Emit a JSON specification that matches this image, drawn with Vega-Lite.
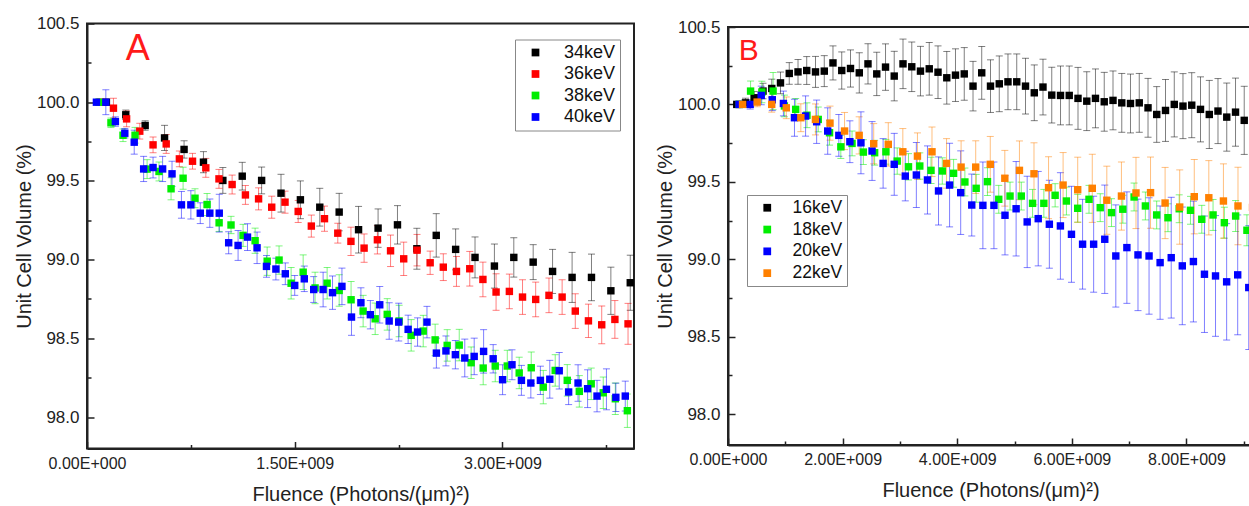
{
"$schema": "https://vega.github.io/schema/vega-lite/v6.json",
"autosize": {"type": "pad"},
"padding": {"left": 13, "top": 13.5, "right": 0, "bottom": 0},
"background": "white",
"config": {
  "font": "Liberation Sans",
  "view": {"stroke": "#222", "strokeWidth": 2},
  "axis": {"domainColor": "#222", "domainWidth": 2, "tickColor": "#222", "tickWidth": 1.5, "labelColor": "#222", "titleColor": "#222", "labelFont": "Liberation Sans", "titleFont": "Liberation Sans", "titleFontWeight": "normal", "titleFontSize": 20, "grid": false, "labelOverlap": false, "labelFlush": false},
  "legend": {"labelFont": "Liberation Sans", "labelColor": "#111", "symbolOpacity": 1}
},
"datasets": {
"a": [
{"E":"34keV","f":0.140,"v":100.0,"e":0},{"E":"34keV","f":0.280,"v":99.92,"e":0.03},{"E":"34keV","f":0.420,"v":99.852,"e":0.03},{"E":"34keV","f":0.560,"v":99.773,"e":0.08},{"E":"34keV","f":0.701,"v":99.70,"e":0.055},{"E":"34keV","f":0.841,"v":99.619,"e":0.067},{"E":"34keV","f":0.981,"v":99.503,"e":0.082},{"E":"34keV","f":1.121,"v":99.53,"e":0.088},{"E":"34keV","f":1.261,"v":99.503,"e":0.085},{"E":"34keV","f":1.401,"v":99.422,"e":0.12},{"E":"34keV","f":1.541,"v":99.38,"e":0.12},{"E":"34keV","f":1.681,"v":99.333,"e":0.12},{"E":"34keV","f":1.821,"v":99.302,"e":0.119},{"E":"34keV","f":1.961,"v":99.19,"e":0.148},{"E":"34keV","f":2.102,"v":99.2,"e":0.122},{"E":"34keV","f":2.242,"v":99.221,"e":0.122},{"E":"34keV","f":2.382,"v":99.069,"e":0.13},{"E":"34keV","f":2.522,"v":99.154,"e":0.138},{"E":"34keV","f":2.662,"v":99.065,"e":0.13},{"E":"34keV","f":2.802,"v":99.014,"e":0.13},{"E":"34keV","f":2.942,"v":98.959,"e":0.14},{"E":"34keV","f":3.082,"v":99.014,"e":0.125},{"E":"34keV","f":3.222,"v":98.984,"e":0.111},{"E":"34keV","f":3.362,"v":98.925,"e":0.14},{"E":"34keV","f":3.503,"v":98.887,"e":0.159},{"E":"34keV","f":3.643,"v":98.887,"e":0.148},{"E":"34keV","f":3.783,"v":98.802,"e":0.15},{"E":"34keV","f":3.923,"v":98.853,"e":0.175},
{"E":"36keV","f":0.095,"v":100.0,"e":0},{"E":"36keV","f":0.191,"v":99.962,"e":0.063},{"E":"36keV","f":0.286,"v":99.894,"e":0.05},{"E":"36keV","f":0.381,"v":99.816,"e":0.05},{"E":"36keV","f":0.477,"v":99.729,"e":0.05},{"E":"36keV","f":0.572,"v":99.735,"e":0.06},{"E":"36keV","f":0.667,"v":99.64,"e":0.05},{"E":"36keV","f":0.762,"v":99.625,"e":0.05},{"E":"36keV","f":0.858,"v":99.583,"e":0.06},{"E":"36keV","f":0.953,"v":99.513,"e":0.06},{"E":"36keV","f":1.048,"v":99.477,"e":0.06},{"E":"36keV","f":1.144,"v":99.411,"e":0.06},{"E":"36keV","f":1.239,"v":99.386,"e":0.07},{"E":"36keV","f":1.334,"v":99.333,"e":0.07},{"E":"36keV","f":1.430,"v":99.365,"e":0.07},{"E":"36keV","f":1.525,"v":99.306,"e":0.07},{"E":"36keV","f":1.620,"v":99.213,"e":0.07},{"E":"36keV","f":1.715,"v":99.26,"e":0.08},{"E":"36keV","f":1.811,"v":99.168,"e":0.063},{"E":"36keV","f":1.906,"v":99.116,"e":0.09},{"E":"36keV","f":2.001,"v":99.073,"e":0.09},{"E":"36keV","f":2.097,"v":99.126,"e":0.09},{"E":"36keV","f":2.192,"v":99.056,"e":0.1},{"E":"36keV","f":2.287,"v":99.005,"e":0.106},{"E":"36keV","f":2.383,"v":99.06,"e":0.1},{"E":"36keV","f":2.478,"v":98.98,"e":0.074},{"E":"36keV","f":2.573,"v":98.952,"e":0.085},{"E":"36keV","f":2.668,"v":98.925,"e":0.095},{"E":"36keV","f":2.764,"v":98.942,"e":0.11},{"E":"36keV","f":2.859,"v":98.874,"e":0.11},{"E":"36keV","f":2.954,"v":98.794,"e":0.116},{"E":"36keV","f":3.050,"v":98.798,"e":0.11},{"E":"36keV","f":3.145,"v":98.762,"e":0.11},{"E":"36keV","f":3.240,"v":98.747,"e":0.11},{"E":"36keV","f":3.336,"v":98.773,"e":0.11},{"E":"36keV","f":3.431,"v":98.762,"e":0.11},{"E":"36keV","f":3.526,"v":98.673,"e":0.11},{"E":"36keV","f":3.621,"v":98.611,"e":0.106},{"E":"36keV","f":3.717,"v":98.586,"e":0.12},{"E":"36keV","f":3.812,"v":98.62,"e":0.12},{"E":"36keV","f":3.907,"v":98.592,"e":0.13},
{"E":"38keV","f":0.087,"v":100.0,"e":0},{"E":"38keV","f":0.173,"v":99.869,"e":0.03},{"E":"38keV","f":0.260,"v":99.79,"e":0.04},{"E":"38keV","f":0.347,"v":99.79,"e":0.05},{"E":"38keV","f":0.434,"v":99.575,"e":0.06},{"E":"38keV","f":0.520,"v":99.56,"e":0.06},{"E":"38keV","f":0.607,"v":99.45,"e":0.07},{"E":"38keV","f":0.694,"v":99.517,"e":0.07},{"E":"38keV","f":0.780,"v":99.39,"e":0.06},{"E":"38keV","f":0.867,"v":99.35,"e":0.07},{"E":"38keV","f":0.954,"v":99.234,"e":0.055},{"E":"38keV","f":1.040,"v":99.22,"e":0.055},{"E":"38keV","f":1.127,"v":99.154,"e":0.07},{"E":"38keV","f":1.214,"v":99.12,"e":0.08},{"E":"38keV","f":1.301,"v":98.99,"e":0.09},{"E":"38keV","f":1.387,"v":98.997,"e":0.09},{"E":"38keV","f":1.474,"v":98.85,"e":0.1},{"E":"38keV","f":1.561,"v":98.92,"e":0.11},{"E":"38keV","f":1.647,"v":98.82,"e":0.1},{"E":"38keV","f":1.734,"v":98.85,"e":0.1},{"E":"38keV","f":1.821,"v":98.804,"e":0.1},{"E":"38keV","f":1.907,"v":98.745,"e":0.116},{"E":"38keV","f":1.994,"v":98.673,"e":0.1},{"E":"38keV","f":2.081,"v":98.624,"e":0.1},{"E":"38keV","f":2.168,"v":98.652,"e":0.1},{"E":"38keV","f":2.254,"v":98.61,"e":0.1},{"E":"38keV","f":2.341,"v":98.519,"e":0.1},{"E":"38keV","f":2.428,"v":98.546,"e":0.1},{"E":"38keV","f":2.514,"v":98.49,"e":0.1},{"E":"38keV","f":2.601,"v":98.455,"e":0.1},{"E":"38keV","f":2.688,"v":98.457,"e":0.1},{"E":"38keV","f":2.774,"v":98.345,"e":0.1},{"E":"38keV","f":2.861,"v":98.311,"e":0.106},{"E":"38keV","f":2.948,"v":98.324,"e":0.1},{"E":"38keV","f":3.035,"v":98.324,"e":0.1},{"E":"38keV","f":3.121,"v":98.28,"e":0.1},{"E":"38keV","f":3.208,"v":98.313,"e":0.1},{"E":"38keV","f":3.295,"v":98.19,"e":0.106},{"E":"38keV","f":3.381,"v":98.296,"e":0.1},{"E":"38keV","f":3.468,"v":98.233,"e":0.1},{"E":"38keV","f":3.555,"v":98.163,"e":0.1},{"E":"38keV","f":3.641,"v":98.211,"e":0.1},{"E":"38keV","f":3.728,"v":98.154,"e":0.1},{"E":"38keV","f":3.815,"v":98.116,"e":0.1},{"E":"38keV","f":3.902,"v":98.04,"e":0.106},
{"E":"40keV","f":0.068,"v":100.0,"e":0},{"E":"40keV","f":0.136,"v":100.0,"e":0.079},{"E":"40keV","f":0.205,"v":99.877,"e":0.03},{"E":"40keV","f":0.273,"v":99.803,"e":0.03},{"E":"40keV","f":0.341,"v":99.746,"e":0.076},{"E":"40keV","f":0.409,"v":99.576,"e":0.08},{"E":"40keV","f":0.477,"v":99.585,"e":0.066},{"E":"40keV","f":0.546,"v":99.576,"e":0.08},{"E":"40keV","f":0.614,"v":99.545,"e":0.08},{"E":"40keV","f":0.682,"v":99.348,"e":0.085},{"E":"40keV","f":0.750,"v":99.348,"e":0.09},{"E":"40keV","f":0.818,"v":99.295,"e":0.066},{"E":"40keV","f":0.887,"v":99.295,"e":0.09},{"E":"40keV","f":0.955,"v":99.295,"e":0.12},{"E":"40keV","f":1.023,"v":99.107,"e":0.07},{"E":"40keV","f":1.091,"v":99.09,"e":0.095},{"E":"40keV","f":1.159,"v":99.143,"e":0.085},{"E":"40keV","f":1.228,"v":99.075,"e":0.1},{"E":"40keV","f":1.296,"v":98.957,"e":0.069},{"E":"40keV","f":1.364,"v":98.94,"e":0.069},{"E":"40keV","f":1.432,"v":98.91,"e":0.069},{"E":"40keV","f":1.500,"v":98.836,"e":0.063},{"E":"40keV","f":1.569,"v":98.878,"e":0.081},{"E":"40keV","f":1.637,"v":98.81,"e":0.082},{"E":"40keV","f":1.705,"v":98.81,"e":0.11},{"E":"40keV","f":1.773,"v":98.79,"e":0.106},{"E":"40keV","f":1.841,"v":98.83,"e":0.116},{"E":"40keV","f":1.910,"v":98.635,"e":0.116},{"E":"40keV","f":1.978,"v":98.726,"e":0.095},{"E":"40keV","f":2.046,"v":98.65,"e":0.09},{"E":"40keV","f":2.114,"v":98.713,"e":0.116},{"E":"40keV","f":2.182,"v":98.61,"e":0.116},{"E":"40keV","f":2.251,"v":98.603,"e":0.12},{"E":"40keV","f":2.319,"v":98.557,"e":0.09},{"E":"40keV","f":2.387,"v":98.54,"e":0.09},{"E":"40keV","f":2.455,"v":98.603,"e":0.1},{"E":"40keV","f":2.523,"v":98.406,"e":0.095},{"E":"40keV","f":2.592,"v":98.42,"e":0.095},{"E":"40keV","f":2.660,"v":98.396,"e":0.09},{"E":"40keV","f":2.728,"v":98.375,"e":0.12},{"E":"40keV","f":2.796,"v":98.385,"e":0.116},{"E":"40keV","f":2.864,"v":98.417,"e":0.138},{"E":"40keV","f":2.933,"v":98.37,"e":0.09},{"E":"40keV","f":3.001,"v":98.237,"e":0.095},{"E":"40keV","f":3.069,"v":98.332,"e":0.095},{"E":"40keV","f":3.137,"v":98.233,"e":0.095},{"E":"40keV","f":3.205,"v":98.216,"e":0.095},{"E":"40keV","f":3.274,"v":98.233,"e":0.09},{"E":"40keV","f":3.342,"v":98.24,"e":0.12},{"E":"40keV","f":3.410,"v":98.294,"e":0.116},{"E":"40keV","f":3.478,"v":98.159,"e":0.08},{"E":"40keV","f":3.546,"v":98.216,"e":0.116},{"E":"40keV","f":3.615,"v":98.18,"e":0.12},{"E":"40keV","f":3.683,"v":98.133,"e":0.1},{"E":"40keV","f":3.751,"v":98.176,"e":0.13},{"E":"40keV","f":3.819,"v":98.125,"e":0.09},{"E":"40keV","f":3.887,"v":98.133,"e":0.095}
],
"b": [
{"E":"16keV","f":0.153,"v":100.0,"e":0},{"E":"16keV","f":0.305,"v":100.01,"e":0.03},{"E":"16keV","f":0.458,"v":100.043,"e":0.04},{"E":"16keV","f":0.611,"v":100.086,"e":0.05},{"E":"16keV","f":0.764,"v":100.103,"e":0.06},{"E":"16keV","f":0.916,"v":100.139,"e":0.07},{"E":"16keV","f":1.069,"v":100.2,"e":0.07},{"E":"16keV","f":1.222,"v":100.21,"e":0.08},{"E":"16keV","f":1.374,"v":100.219,"e":0.09},{"E":"16keV","f":1.527,"v":100.21,"e":0.1},{"E":"16keV","f":1.680,"v":100.215,"e":0.1},{"E":"16keV","f":1.832,"v":100.268,"e":0.11},{"E":"16keV","f":1.985,"v":100.219,"e":0.12},{"E":"16keV","f":2.138,"v":100.232,"e":0.12},{"E":"16keV","f":2.291,"v":100.204,"e":0.13},{"E":"16keV","f":2.443,"v":100.262,"e":0.13},{"E":"16keV","f":2.596,"v":100.197,"e":0.14},{"E":"16keV","f":2.749,"v":100.241,"e":0.15},{"E":"16keV","f":2.901,"v":100.183,"e":0.16},{"E":"16keV","f":3.054,"v":100.262,"e":0.16},{"E":"16keV","f":3.207,"v":100.243,"e":0.16},{"E":"16keV","f":3.359,"v":100.215,"e":0.16},{"E":"16keV","f":3.512,"v":100.23,"e":0.17},{"E":"16keV","f":3.665,"v":100.208,"e":0.17},{"E":"16keV","f":3.818,"v":100.172,"e":0.17},{"E":"16keV","f":3.970,"v":100.189,"e":0.17},{"E":"16keV","f":4.123,"v":100.197,"e":0.17},{"E":"16keV","f":4.276,"v":100.118,"e":0.16},{"E":"16keV","f":4.428,"v":100.204,"e":0.17},{"E":"16keV","f":4.581,"v":100.118,"e":0.17},{"E":"16keV","f":4.734,"v":100.133,"e":0.18},{"E":"16keV","f":4.886,"v":100.146,"e":0.18},{"E":"16keV","f":5.039,"v":100.146,"e":0.18},{"E":"16keV","f":5.192,"v":100.118,"e":0.18},{"E":"16keV","f":5.345,"v":100.075,"e":0.18},{"E":"16keV","f":5.497,"v":100.112,"e":0.18},{"E":"16keV","f":5.650,"v":100.06,"e":0.18},{"E":"16keV","f":5.803,"v":100.058,"e":0.19},{"E":"16keV","f":5.955,"v":100.058,"e":0.19},{"E":"16keV","f":6.108,"v":100.039,"e":0.2},{"E":"16keV","f":6.261,"v":100.021,"e":0.19},{"E":"16keV","f":6.413,"v":100.039,"e":0.19},{"E":"16keV","f":6.566,"v":100.017,"e":0.19},{"E":"16keV","f":6.719,"v":100.026,"e":0.19},{"E":"16keV","f":6.872,"v":100.01,"e":0.19},{"E":"16keV","f":7.024,"v":100.006,"e":0.19},{"E":"16keV","f":7.177,"v":100.01,"e":0.19},{"E":"16keV","f":7.330,"v":99.978,"e":0.19},{"E":"16keV","f":7.482,"v":99.935,"e":0.18},{"E":"16keV","f":7.635,"v":99.961,"e":0.2},{"E":"16keV","f":7.788,"v":100.0,"e":0.21},{"E":"16keV","f":7.940,"v":99.989,"e":0.21},{"E":"16keV","f":8.093,"v":99.995,"e":0.21},{"E":"16keV","f":8.246,"v":99.968,"e":0.21},{"E":"16keV","f":8.399,"v":99.935,"e":0.22},{"E":"16keV","f":8.551,"v":99.957,"e":0.21},{"E":"16keV","f":8.704,"v":99.918,"e":0.22},{"E":"16keV","f":8.857,"v":99.95,"e":0.22},{"E":"16keV","f":9.009,"v":99.897,"e":0.22},
{"E":"18keV","f":0.197,"v":100.0,"e":0},{"E":"18keV","f":0.394,"v":100.086,"e":0.065},{"E":"18keV","f":0.591,"v":100.08,"e":0.07},{"E":"18keV","f":0.787,"v":100.086,"e":0.12},{"E":"18keV","f":0.984,"v":99.99,"e":0.07},{"E":"18keV","f":1.181,"v":99.968,"e":0.07},{"E":"18keV","f":1.378,"v":99.93,"e":0.08},{"E":"18keV","f":1.575,"v":99.903,"e":0.08},{"E":"18keV","f":1.772,"v":99.817,"e":0.08},{"E":"18keV","f":1.969,"v":99.726,"e":0.075},{"E":"18keV","f":2.165,"v":99.748,"e":0.08},{"E":"18keV","f":2.362,"v":99.692,"e":0.08},{"E":"18keV","f":2.559,"v":99.688,"e":0.08},{"E":"18keV","f":2.756,"v":99.694,"e":0.08},{"E":"18keV","f":2.953,"v":99.634,"e":0.085},{"E":"18keV","f":3.150,"v":99.597,"e":0.085},{"E":"18keV","f":3.347,"v":99.602,"e":0.085},{"E":"18keV","f":3.543,"v":99.574,"e":0.085},{"E":"18keV","f":3.740,"v":99.57,"e":0.085},{"E":"18keV","f":3.937,"v":99.555,"e":0.09},{"E":"18keV","f":4.134,"v":99.499,"e":0.09},{"E":"18keV","f":4.331,"v":99.458,"e":0.09},{"E":"18keV","f":4.528,"v":99.501,"e":0.09},{"E":"18keV","f":4.725,"v":99.387,"e":0.09},{"E":"18keV","f":4.922,"v":99.408,"e":0.09},{"E":"18keV","f":5.118,"v":99.408,"e":0.09},{"E":"18keV","f":5.315,"v":99.361,"e":0.09},{"E":"18keV","f":5.512,"v":99.361,"e":0.09},{"E":"18keV","f":5.709,"v":99.413,"e":0.075},{"E":"18keV","f":5.906,"v":99.376,"e":0.09},{"E":"18keV","f":6.103,"v":99.329,"e":0.09},{"E":"18keV","f":6.300,"v":99.387,"e":0.09},{"E":"18keV","f":6.496,"v":99.333,"e":0.09},{"E":"18keV","f":6.693,"v":99.301,"e":0.09},{"E":"18keV","f":6.890,"v":99.323,"e":0.09},{"E":"18keV","f":7.087,"v":99.402,"e":0.09},{"E":"18keV","f":7.284,"v":99.344,"e":0.09},{"E":"18keV","f":7.481,"v":99.286,"e":0.09},{"E":"18keV","f":7.678,"v":99.268,"e":0.09},{"E":"18keV","f":7.874,"v":99.326,"e":0.09},{"E":"18keV","f":8.071,"v":99.316,"e":0.09},{"E":"18keV","f":8.268,"v":99.258,"e":0.09},{"E":"18keV","f":8.465,"v":99.286,"e":0.1},{"E":"18keV","f":8.662,"v":99.236,"e":0.1},{"E":"18keV","f":8.859,"v":99.279,"e":0.1},{"E":"18keV","f":9.056,"v":99.187,"e":0.1},
{"E":"20keV","f":0.193,"v":100.0,"e":0},{"E":"20keV","f":0.387,"v":100.0,"e":0.03},{"E":"20keV","f":0.580,"v":100.058,"e":0.06},{"E":"20keV","f":0.773,"v":100.03,"e":0.07},{"E":"20keV","f":0.967,"v":100.006,"e":0.08},{"E":"20keV","f":1.160,"v":99.914,"e":0.12},{"E":"20keV","f":1.354,"v":99.925,"e":0.13},{"E":"20keV","f":1.547,"v":99.888,"e":0.14},{"E":"20keV","f":1.740,"v":99.828,"e":0.15},{"E":"20keV","f":1.934,"v":99.8,"e":0.135},{"E":"20keV","f":2.127,"v":99.759,"e":0.135},{"E":"20keV","f":2.320,"v":99.752,"e":0.2},{"E":"20keV","f":2.514,"v":99.699,"e":0.19},{"E":"20keV","f":2.707,"v":99.619,"e":0.16},{"E":"20keV","f":2.901,"v":99.613,"e":0.2},{"E":"20keV","f":3.094,"v":99.537,"e":0.16},{"E":"20keV","f":3.287,"v":99.544,"e":0.21},{"E":"20keV","f":3.481,"v":99.512,"e":0.22},{"E":"20keV","f":3.674,"v":99.441,"e":0.22},{"E":"20keV","f":3.867,"v":99.479,"e":0.27},{"E":"20keV","f":4.061,"v":99.43,"e":0.27},{"E":"20keV","f":4.254,"v":99.35,"e":0.2},{"E":"20keV","f":4.448,"v":99.348,"e":0.28},{"E":"20keV","f":4.641,"v":99.348,"e":0.28},{"E":"20keV","f":4.834,"v":99.284,"e":0.256},{"E":"20keV","f":5.028,"v":99.326,"e":0.305},{"E":"20keV","f":5.221,"v":99.241,"e":0.295},{"E":"20keV","f":5.414,"v":99.262,"e":0.305},{"E":"20keV","f":5.608,"v":99.226,"e":0.284},{"E":"20keV","f":5.801,"v":99.215,"e":0.344},{"E":"20keV","f":5.994,"v":99.161,"e":0.31},{"E":"20keV","f":6.188,"v":99.097,"e":0.29},{"E":"20keV","f":6.381,"v":99.097,"e":0.31},{"E":"20keV","f":6.575,"v":99.129,"e":0.35},{"E":"20keV","f":6.768,"v":99.021,"e":0.33},{"E":"20keV","f":6.961,"v":99.075,"e":0.36},{"E":"20keV","f":7.155,"v":99.028,"e":0.36},{"E":"20keV","f":7.348,"v":99.021,"e":0.376},{"E":"20keV","f":7.541,"v":98.978,"e":0.366},{"E":"20keV","f":7.735,"v":99.01,"e":0.39},{"E":"20keV","f":7.928,"v":98.957,"e":0.38},{"E":"20keV","f":8.122,"v":98.985,"e":0.39},{"E":"20keV","f":8.315,"v":98.903,"e":0.376},{"E":"20keV","f":8.508,"v":98.892,"e":0.39},{"E":"20keV","f":8.702,"v":98.854,"e":0.376},{"E":"20keV","f":8.895,"v":98.899,"e":0.387},{"E":"20keV","f":9.088,"v":98.817,"e":0.40},
{"E":"22keV","f":0.254,"v":100.0,"e":0},{"E":"22keV","f":0.509,"v":100.015,"e":0.03},{"E":"22keV","f":0.763,"v":100.0,"e":0.05},{"E":"22keV","f":1.017,"v":99.978,"e":0.07},{"E":"22keV","f":1.271,"v":99.914,"e":0.09},{"E":"22keV","f":1.526,"v":99.903,"e":0.1},{"E":"22keV","f":1.780,"v":99.879,"e":0.11},{"E":"22keV","f":2.034,"v":99.828,"e":0.12},{"E":"22keV","f":2.289,"v":99.8,"e":0.12},{"E":"22keV","f":2.543,"v":99.746,"e":0.13},{"E":"22keV","f":2.797,"v":99.742,"e":0.14},{"E":"22keV","f":3.051,"v":99.694,"e":0.15},{"E":"22keV","f":3.306,"v":99.666,"e":0.15},{"E":"22keV","f":3.560,"v":99.694,"e":0.16},{"E":"22keV","f":3.814,"v":99.619,"e":0.16},{"E":"22keV","f":4.068,"v":99.595,"e":0.17},{"E":"22keV","f":4.323,"v":99.595,"e":0.17},{"E":"22keV","f":4.577,"v":99.613,"e":0.18},{"E":"22keV","f":4.831,"v":99.523,"e":0.18},{"E":"22keV","f":5.086,"v":99.574,"e":0.19},{"E":"22keV","f":5.340,"v":99.552,"e":0.2},{"E":"22keV","f":5.594,"v":99.462,"e":0.2},{"E":"22keV","f":5.848,"v":99.479,"e":0.21},{"E":"22keV","f":6.103,"v":99.449,"e":0.21},{"E":"22keV","f":6.357,"v":99.458,"e":0.22},{"E":"22keV","f":6.611,"v":99.381,"e":0.22},{"E":"22keV","f":6.866,"v":99.408,"e":0.22},{"E":"22keV","f":7.120,"v":99.428,"e":0.23},{"E":"22keV","f":7.374,"v":99.43,"e":0.23},{"E":"22keV","f":7.628,"v":99.363,"e":0.23},{"E":"22keV","f":7.883,"v":99.337,"e":0.24},{"E":"22keV","f":8.137,"v":99.404,"e":0.24},{"E":"22keV","f":8.391,"v":99.397,"e":0.24},{"E":"22keV","f":8.646,"v":99.376,"e":0.24},{"E":"22keV","f":8.900,"v":99.344,"e":0.25},{"E":"22keV","f":9.154,"v":99.335,"e":0.25}
]
},
"hconcat": [
{
  "width": 547, "height": 425,
  "layer": [
    {"data": {"name": "a"},
     "mark": {"type": "errorbar", "ticks": {"size": 7}, "thickness": 1, "opacity": 0.5},
     "encoding": {
       "x": {"field": "f", "type": "quantitative", "title": "Fluence (Photons/(μm)²)",
         "scale": {"domain": [0, 3.95], "nice": false, "zero": false},
         "axis": {"values": [0, 0.75, 1.5, 2.25, 3, 3.75], "labelFontSize": 16, "labelPadding": 13.5, "titlePadding": 10,
           "tickSize": {"condition": {"test": "abs(datum.value/1.5 - round(datum.value/1.5)) > 0.01", "value": -4}, "value": -7},
           "labelExpr": "abs(datum.value/1.5 - round(datum.value/1.5)) > 0.01 ? '' : (datum.value == 0 ? '0.00E+000' : format(datum.value, '.2f') + 'E+009')"}},
       "y": {"field": "v", "type": "quantitative", "title": "Unit Cell Volume (%)",
         "scale": {"domain": [97.8, 100.5], "nice": false, "zero": false},
         "axis": {"values": [98, 98.25, 98.5, 98.75, 99, 99.25, 99.5, 99.75, 100, 100.25, 100.5], "labelFontSize": 17, "labelPadding": 15, "titlePadding": 2,
           "tickSize": {"condition": {"test": "abs(datum.value*2 - round(datum.value*2)) > 0.01", "value": -4}, "value": -7},
           "labelExpr": "abs(datum.value*2 - round(datum.value*2)) > 0.01 ? '' : format(datum.value, '.1f')"}},
       "yError": {"field": "e"},
       "color": {"field": "E", "type": "nominal", "scale": {"domain": ["34keV","36keV","38keV","40keV"], "range": ["#000000","#ff0000","#00ee00","#0000ff"]}}}},
    {"data": {"name": "a"},
     "mark": {"type": "point", "shape": "square", "filled": true, "size": 55, "opacity": 1},
     "encoding": {
       "x": {"field": "f", "type": "quantitative"},
       "y": {"field": "v", "type": "quantitative"},
       "color": {"field": "E", "type": "nominal", "scale": {"domain": ["34keV","36keV","38keV","40keV"], "range": ["#000000","#ff0000","#00ee00","#0000ff"]},
         "legend": {"title": null, "orient": "none", "legendX": 428, "legendY": 16, "symbolType": "square", "symbolSize": 60, "symbolStrokeWidth": 0, "symbolOpacity": 1, "labelFontSize": 18, "strokeColor": "#888", "fillColor": "#fff", "padding": 4, "symbolOffset": 7.5, "labelOffset": 19.5, "rowPadding": 3.5}}}},
    {"data": {"values": [{"t": "A"}]},
     "mark": {"type": "text", "color": "#ff1a1a", "fontSize": 36, "align": "left", "baseline": "alphabetic", "font": "Liberation Sans", "opacity": 1},
     "encoding": {"text": {"field": "t", "type": "nominal"}, "x": {"datum": 0.28, "type": "quantitative"}, "y": {"datum": 100.265, "type": "quantitative"}}}
  ]
},
{
  "width": 525, "height": 418,
  "layer": [
    {"data": {"name": "b"},
     "mark": {"type": "errorbar", "ticks": {"size": 7}, "thickness": 1, "opacity": 0.5},
     "encoding": {
       "x": {"field": "f", "type": "quantitative", "title": "Fluence (Photons/(μm)²)",
         "scale": {"domain": [0, 9.162], "nice": false, "zero": false},
         "axis": {"values": [0, 1, 2, 3, 4, 5, 6, 7, 8, 9], "labelFontSize": 16, "labelPadding": 13.5, "titlePadding": 10,
           "tickSize": {"condition": {"test": "abs(datum.value/2 - round(datum.value/2)) > 0.01", "value": -4}, "value": -7},
           "labelExpr": "abs(datum.value/2 - round(datum.value/2)) > 0.01 ? '' : (datum.value == 0 ? '0.00E+000' : format(datum.value, '.2f') + 'E+009')"}},
       "y": {"field": "v", "type": "quantitative", "title": "Unit Cell Volume (%)",
         "scale": {"domain": [97.8, 100.5], "nice": false, "zero": false},
         "axis": {"values": [98, 98.25, 98.5, 98.75, 99, 99.25, 99.5, 99.75, 100, 100.25, 100.5], "labelFontSize": 17, "labelPadding": 15, "titlePadding": 2,
           "tickSize": {"condition": {"test": "abs(datum.value*2 - round(datum.value*2)) > 0.01", "value": -4}, "value": -7},
           "labelExpr": "abs(datum.value*2 - round(datum.value*2)) > 0.01 ? '' : format(datum.value, '.1f')"}},
       "yError": {"field": "e"},
       "color": {"field": "E", "type": "nominal", "scale": {"domain": ["16keV","18keV","20keV","22keV"], "range": ["#000000","#00ee00","#0000ff","#ff8000"]}}}},
    {"data": {"name": "b"},
     "mark": {"type": "point", "shape": "square", "filled": true, "size": 55, "opacity": 1},
     "encoding": {
       "x": {"field": "f", "type": "quantitative"},
       "y": {"field": "v", "type": "quantitative"},
       "color": {"field": "E", "type": "nominal", "scale": {"domain": ["16keV","18keV","20keV","22keV"], "range": ["#000000","#00ee00","#0000ff","#ff8000"]},
         "legend": {"title": null, "orient": "none", "legendX": 19, "legendY": 168, "symbolType": "square", "symbolSize": 60, "symbolStrokeWidth": 0, "symbolOpacity": 1, "labelFontSize": 17.5, "strokeColor": "#888", "fillColor": "#fff", "padding": 4, "symbolOffset": 7.5, "labelOffset": 16.5, "rowPadding": 2.8}}}},
    {"data": {"values": [{"t": "B"}]},
     "mark": {"type": "text", "color": "#ff1a1a", "fontSize": 30, "align": "left", "baseline": "alphabetic", "font": "Liberation Sans", "opacity": 1},
     "encoding": {"text": {"field": "t", "type": "nominal"}, "x": {"datum": 0.187, "type": "quantitative"}, "y": {"datum": 100.284, "type": "quantitative"}}}
  ]
}
],
"spacing": 94,
"bounds": "flush",
"center": true,
"resolve": {"scale": {"color": "independent", "x": "independent", "y": "independent"}, "legend": {"color": "independent"}}
}
